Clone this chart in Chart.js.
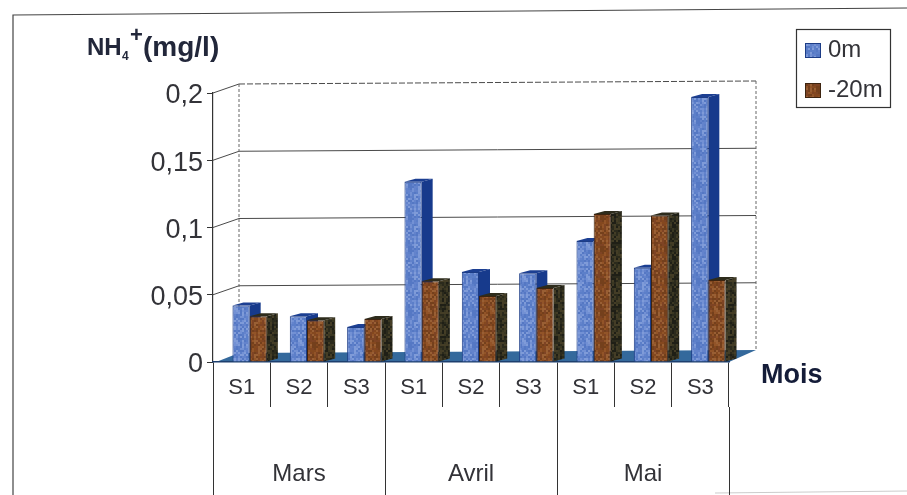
<!DOCTYPE html>
<html><head><meta charset="utf-8">
<script src="https://cdn.jsdelivr.net/npm/chart.js@4"></script>
<style>html,body{margin:0;padding:0;background:#fff}canvas{display:block;filter:blur(0.55px)}</style>
</head><body><canvas id="c" width="907" height="495"></canvas>
<script>
const weeks = ['S1','S2','S3','S1','S2','S3','S1','S2','S3'];
const months = ['Mars','Avril','Mai'];
const seriesNames = ['0m','-20m'];
const surface = [0.042,0.034,0.026,0.134,0.067,0.066,0.090,0.070,0.197];
const deep = [0.034,0.031,0.032,0.060,0.049,0.055,0.110,0.109,0.061];
const yTicks = [0,0.05,0.1,0.15,0.2];

const FONT = '"Liberation Sans", Arial, sans-serif';
const INK = '#333338';
function speckle(colors){
  const p = document.createElement('canvas'); p.width = p.height = 32;
  const g = p.getContext('2d'); let s = 12345;
  for (let y=0;y<32;y+=2) for (let x=0;x<32;x+=2){
    s = (s*1103515245+12345) & 0x7fffffff;
    g.fillStyle = colors[(s>>16)%colors.length]; g.fillRect(x,y,2,2);
  }
  return g.createPattern(p,'repeat');
}
const ctx0 = document.getElementById('c').getContext('2d');
const blueFront = speckle(['#6383cc','#7391d4','#5578c4','#7f9bd8','#5c7fc9']);
const brownFront = speckle(['#84481f','#925428','#74401c','#995f34','#7e4424']);
const blueSide = '#173a8c', brownSide = speckle(['#2b2a1c','#3a3722','#1f1f16','#443d26']);
const looks = [{side:blueSide, top:'#1c3f92'},{side:brownSide, top:'#2e2c1c'}];
const DX = 11, DY = 3, SHIFT = 8;

function depth(c,index){
  const g=c.ctx, look=looks[index];
  c.getDatasetMeta(index).data.forEach(b=>{
    const l=b.x-b.width/2, r=b.x+b.width/2, t=b.y, u=b.base;
    g.fillStyle=look.side;
    g.beginPath(); g.moveTo(r,t); g.lineTo(r+DX,t-DY); g.lineTo(r+DX,u-DY); g.lineTo(r,u); g.closePath(); g.fill();
    g.fillStyle=look.top;
    g.beginPath(); g.moveTo(l,t); g.lineTo(l+DX,t-DY); g.lineTo(r+DX,t-DY); g.lineTo(r,t); g.closePath(); g.fill();
  });
}

const scene = {
  id:'scene',
  beforeDraw(c){
    const g=c.ctx, a=c.chartArea, y=c.scales.y;
    g.save();
    g.fillStyle='#fff'; g.fillRect(0,0,c.width,c.height);
    g.strokeStyle='#444'; g.lineWidth=1.2;
    g.beginPath(); g.moveTo(13,495); g.lineTo(13,15); g.lineTo(907,8); g.stroke();
    g.strokeStyle='#ccc'; g.beginPath(); g.moveTo(715,493); g.lineTo(907,491); g.stroke();
    const base=y.getPixelForValue(0);
    g.fillStyle='#34699c';
    g.beginPath(); g.moveTo(a.left+3,base); g.lineTo(a.right,base); g.lineTo(a.right+27,base-12); g.lineTo(a.left+26,base-9); g.closePath(); g.fill();
    g.lineWidth=1; g.strokeStyle='#4a4a4a';
    yTicks.forEach(v=>{
      if (v===0) return;
      const p=y.getPixelForValue(v);
      g.beginPath(); g.moveTo(a.left,p); g.lineTo(a.left+26,p-9); g.stroke();
      g.setLineDash(v===0.2?[6,2]:[]);
      g.beginPath(); g.moveTo(a.left+26,p-9); g.lineTo(a.right+27,p-12); g.stroke();
      g.setLineDash([]);
    });
    g.setLineDash([3,2]); g.strokeStyle='#666';
    const t=y.getPixelForValue(0.2);
    g.beginPath(); g.moveTo(a.left+26,t-9); g.lineTo(a.left+26,base-9);
    g.moveTo(a.right+27,t-12); g.lineTo(a.right+27,base-12); g.stroke();
    g.setLineDash([]);
    g.restore();
  },
  beforeDatasetsDraw(c){ c.ctx.save(); c.ctx.translate(SHIFT,0); },
  beforeDatasetDraw(c,args){
    if (args.index===1) return false;
    depth(c,args.index);
  },
  afterDatasetsDraw(c){
    depth(c,1);
    c.getDatasetMeta(1).controller.draw();
    c.ctx.restore();
  },
  afterDraw(c){
    const g=c.ctx;
    g.save();
    g.textBaseline='alphabetic'; g.textAlign='left';
    g.fillStyle='#22273a';
    g.font='bold 24px '+FONT; g.fillText('NH',87,55);
    g.font='bold 12px '+FONT; g.fillText('4',122,60);
    g.font='bold 22px '+FONT; g.fillText('+',130,42);
    g.font='bold 28px '+FONT; g.fillText('(mg/l)',143,56);
    g.fillStyle='#141c38';
    g.font='bold 27px '+FONT; g.fillText('Mois',761,383);
    g.strokeStyle='#333'; g.lineWidth=1.2; g.strokeRect(796.5,29.5,94,78);
    g.font='24px '+FONT;
    c.data.datasets.forEach((d,i)=>{
      const yy=[43,83][i];
      g.fillStyle=d.backgroundColor; g.fillRect(805,yy,16,15);
      g.strokeStyle=d.borderColor; g.lineWidth=1; g.strokeRect(805.5,yy+.5,15,14);
      g.fillStyle=INK; g.fillText(d.label,828,yy+14);
    });
    g.restore();
  }
};

new Chart(ctx0,{
  type:'bar',
  data:{labels:weeks,datasets:[
    {label:seriesNames[0],data:surface,backgroundColor:blueFront,borderColor:'#1c3c86',borderWidth:1,clip:false},
    {label:seriesNames[1],data:deep,backgroundColor:brownFront,borderColor:'#3d2410',borderWidth:1,clip:false}
  ]},
  plugins:[scene],
  options:{
    responsive:false,animation:false,
    layout:{padding:{top:93,right:178,left:0,bottom:0}},
    plugins:{legend:{display:false},tooltip:{enabled:false},title:{display:false}},
    datasets:{bar:{categoryPercentage:0.6,barPercentage:1}},
    scales:{
      y:{min:0,max:0.2,afterFit(s){s.width=213;},
        afterBuildTicks(s){s.ticks=yTicks.map(v=>({value:v}));},
        border:{color:'#333',width:1.2},
        grid:{drawOnChartArea:false,tickLength:6,color:'#333',tickColor:'#333'},
        ticks:{padding:4,labelOffset:3,color:INK,font:{family:FONT,size:27},callback:v=>String(v).replace('.',',')}},
      x:{type:'category',offset:true,afterFit(s){s.height=45;},
        border:{color:'#1d3f6e',width:1.5},
        grid:{drawOnChartArea:false,offset:true,tickLength:45,color:'#333',tickColor:'#333'},
        ticks:{padding:-32,color:INK,autoSkip:false,maxRotation:0,font:{family:FONT,size:22}}},
      x2:{type:'category',position:'bottom',labels:months,offset:true,afterFit(s){s.height=88;},
        border:{display:false},
        grid:{drawOnChartArea:false,offset:true,tickLength:88,color:'#333',tickColor:'#333'},
        ticks:{padding:-35,color:INK,autoSkip:false,maxRotation:0,font:{family:FONT,size:24}}}
    }
  }
});
</script></body></html>
